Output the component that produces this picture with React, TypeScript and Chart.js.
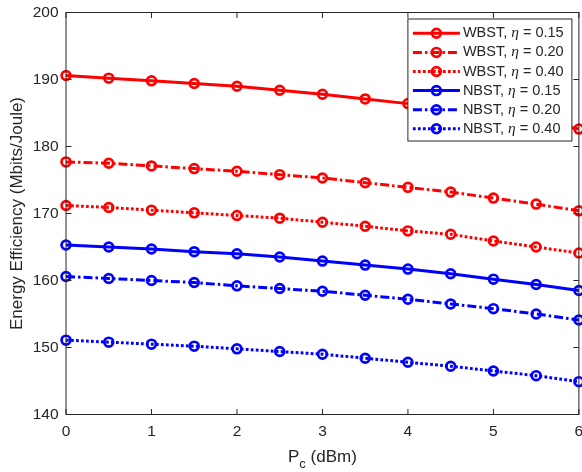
import React, { useEffect, useRef } from 'react';
import { Chart, registerables } from 'chart.js';

Chart.register(...registerables);

// ---- data ----
const pcValues = [0, 0.5, 1, 1.5, 2, 2.5, 3, 3.5, 4, 4.5, 5, 5.5, 6];
const wbst015 = [190.6, 190.2, 189.8, 189.4, 189.0, 188.4, 187.8, 187.1, 186.4, 185.7, 184.8, 183.8, 182.6];
const wbst020 = [177.7, 177.5, 177.1, 176.7, 176.3, 175.8, 175.3, 174.6, 173.9, 173.2, 172.3, 171.4, 170.4];
const wbst040 = [171.2, 170.9, 170.5, 170.1, 169.7, 169.3, 168.7, 168.1, 167.4, 166.9, 165.9, 165.0, 164.1];
const nbst015 = [165.3, 165.0, 164.7, 164.3, 164.0, 163.5, 162.9, 162.3, 161.7, 161.0, 160.2, 159.4, 158.5];
const nbst020 = [160.6, 160.3, 160.0, 159.7, 159.2, 158.8, 158.4, 157.8, 157.2, 156.5, 155.8, 155.0, 154.1];
const nbst040 = [151.1, 150.8, 150.5, 150.2, 149.8, 149.4, 149.0, 148.4, 147.8, 147.2, 146.5, 145.8, 144.9];

const schemeNames = ['WBST', 'WBST', 'WBST', 'NBST', 'NBST', 'NBST'];
const etaLabels = ['0.15', '0.20', '0.40', '0.15', '0.20', '0.40'];
const seriesValues = [wbst015, wbst020, wbst040, nbst015, nbst020, nbst040];
const seriesColors = ['#ff0000', '#ff0000', '#ff0000', '#0000ff', '#0000ff', '#0000ff'];
const seriesStyles = ['solid', 'dashdot', 'dotted', 'solid', 'dashdot', 'dotted'];

const yTickValues = [140, 150, 160, 170, 180, 190, 200];
const xTickValues = [0, 1, 2, 3, 4, 5, 6];
const yAxisTitle = 'Energy Efficiency (Mbits/Joule)';
const xTitleMain = 'P';
const xTitleSub = 'c';
const xTitleRest = ' (dBm)';

const TEXT = '#262626';
const SANS = '"Liberation Sans", Arial, sans-serif';

const dashFor = (s: string): number[] =>
  s === 'dashdot' ? [9, 3, 2.5, 3] : s === 'dotted' ? [2.8, 2.2] : [];

const framePlugin = {
  id: 'matlabFrame',
  afterDraw(chart: any) {
    const { ctx, chartArea } = chart;
    const { left, right, top, bottom } = chartArea;
    const xs = chart.scales.x;
    const ys = chart.scales.y;
    ctx.save();
    // frame
    ctx.strokeStyle = TEXT;
    ctx.lineWidth = 1;
    ctx.setLineDash([]);
    ctx.strokeRect(left, top, right - left, bottom - top);
    // inward ticks
    const tl = 5.5;
    ctx.beginPath();
    xTickValues.forEach((v) => {
      const px = xs.getPixelForValue(v);
      ctx.moveTo(px, bottom);
      ctx.lineTo(px, bottom - tl);
      ctx.moveTo(px, top);
      ctx.lineTo(px, top + tl);
    });
    yTickValues.forEach((v) => {
      const py = ys.getPixelForValue(v);
      ctx.moveTo(left, py);
      ctx.lineTo(left + tl, py);
      ctx.moveTo(right, py);
      ctx.lineTo(right - tl, py);
    });
    ctx.stroke();

    // x title with subscript
    const mainFont = `17px ${SANS}`;
    const subFont = `13px ${SANS}`;
    ctx.font = mainFont;
    const wMain = ctx.measureText(xTitleMain).width;
    const wRest = ctx.measureText(xTitleRest).width;
    ctx.font = subFont;
    const wSub = ctx.measureText(xTitleSub).width;
    const total = wMain + wSub + wRest;
    const cx = (left + right) / 2;
    const x0 = cx - total / 2;
    const base = bottom + 47.5;
    ctx.fillStyle = TEXT;
    ctx.textBaseline = 'alphabetic';
    ctx.textAlign = 'left';
    ctx.font = mainFont;
    ctx.fillText(xTitleMain, x0, base);
    ctx.font = subFont;
    ctx.fillText(xTitleSub, x0 + wMain, base + 6);
    ctx.font = mainFont;
    ctx.fillText(xTitleRest, x0 + wMain + wSub, base);

    // legend
    const lw = 164;
    const lh = 122;
    const lx = right - 7 - lw;
    const ly = top + 6.5;
    ctx.fillStyle = '#ffffff';
    ctx.fillRect(lx, ly, lw, lh);
    ctx.strokeStyle = TEXT;
    ctx.lineWidth = 1;
    ctx.strokeRect(lx, ly, lw, lh);
    chart.data.datasets.forEach((ds: any, i: number) => {
      const ry = ly + 14.3 + i * 19.1;
      ctx.strokeStyle = ds.borderColor;
      ctx.lineWidth = ds.borderWidth;
      ctx.setLineDash(ds.borderDash || []);
      ctx.beginPath();
      ctx.moveTo(lx + 5, ry);
      ctx.lineTo(lx + 52, ry);
      ctx.stroke();
      ctx.setLineDash([]);
      ctx.lineWidth = ds.pointBorderWidth;
      ctx.beginPath();
      ctx.arc(lx + 28.5, ry, ds.pointRadius, 0, Math.PI * 2);
      ctx.stroke();
      // text
      ctx.fillStyle = TEXT;
      ctx.textBaseline = 'middle';
      const p1 = `${schemeNames[i]}, `;
      const p3 = ` = ${etaLabels[i]}`;
      let tx = lx + 55;
      ctx.font = `14.5px ${SANS}`;
      ctx.fillText(p1, tx, ry);
      tx += ctx.measureText(p1).width;
      ctx.font = `italic 15.5px "Liberation Serif", "DejaVu Serif", serif`;
      ctx.fillText('\u03b7', tx, ry);
      tx += ctx.measureText('\u03b7').width;
      ctx.font = `14.5px ${SANS}`;
      ctx.fillText(p3, tx, ry);
    });
    ctx.restore();
  },
};

export default function App() {
  const ref = useRef<HTMLCanvasElement | null>(null);
  useEffect(() => {
    if (!ref.current) return;
    const datasets = seriesValues.map((vals, i) => ({
      label: `${schemeNames[i]}, \u03b7 = ${etaLabels[i]}`,
      data: vals.map((v, k) => ({ x: pcValues[k], y: v })),
      borderColor: seriesColors[i],
      backgroundColor: 'rgba(0,0,0,0)',
      borderWidth: 3,
      borderDash: dashFor(seriesStyles[i]),
      borderCapStyle: 'butt',
      pointRadius: 4.4,
      pointHoverRadius: 4.4,
      pointBorderWidth: 2.7,
      pointBorderColor: seriesColors[i],
      pointBackgroundColor: 'rgba(0,0,0,0)',
      tension: 0,
      fill: false,
      clip: false,
    }));
    const chart = new Chart(ref.current, {
      type: 'line',
      data: { datasets } as any,
      options: {
        animation: false,
        responsive: false,
        devicePixelRatio: 1,
        events: [],
        layout: { padding: { top: 12.5, right: 3, left: 0, bottom: 0 } },
        plugins: {
          legend: { display: false },
          tooltip: { enabled: false },
        },
        scales: {
          x: {
            type: 'linear',
            min: 0,
            max: 6,
            grid: { display: false, drawTicks: false, tickLength: 0 },
            border: { display: false },
            ticks: {
              stepSize: 1,
              padding: 8,
              color: TEXT,
              font: { family: SANS, size: 15.5 },
              maxRotation: 0,
            },
            afterFit: (s: any) => {
              s.height = 57.5;
              s.paddingLeft = 0;
              s.paddingRight = 0;
            },
          },
          y: {
            type: 'linear',
            min: 140,
            max: 200,
            grid: { display: false, drawTicks: false, tickLength: 0 },
            border: { display: false },
            ticks: {
              stepSize: 10,
              padding: 7.5,
              color: TEXT,
              font: { family: SANS, size: 15.5 },
            },
            title: {
              display: true,
              text: yAxisTitle,
              color: TEXT,
              font: { family: SANS, size: 17 },
              padding: { top: 7, bottom: 0 },
            },
            afterFit: (s: any) => {
              s.width = 66;
              s.paddingTop = 0;
              s.paddingBottom = 0;
            },
          },
        },
      } as any,
      plugins: [framePlugin],
    });
    return () => chart.destroy();
  }, []);
  return (
    <div style={{ position: 'absolute', left: 0, top: 0, width: 582, height: 472, overflow: 'hidden', background: '#fff' }}>
      <canvas ref={ref} width={586} height={472} style={{ width: 586, height: 472, display: 'block' }} />
    </div>
  );
}
